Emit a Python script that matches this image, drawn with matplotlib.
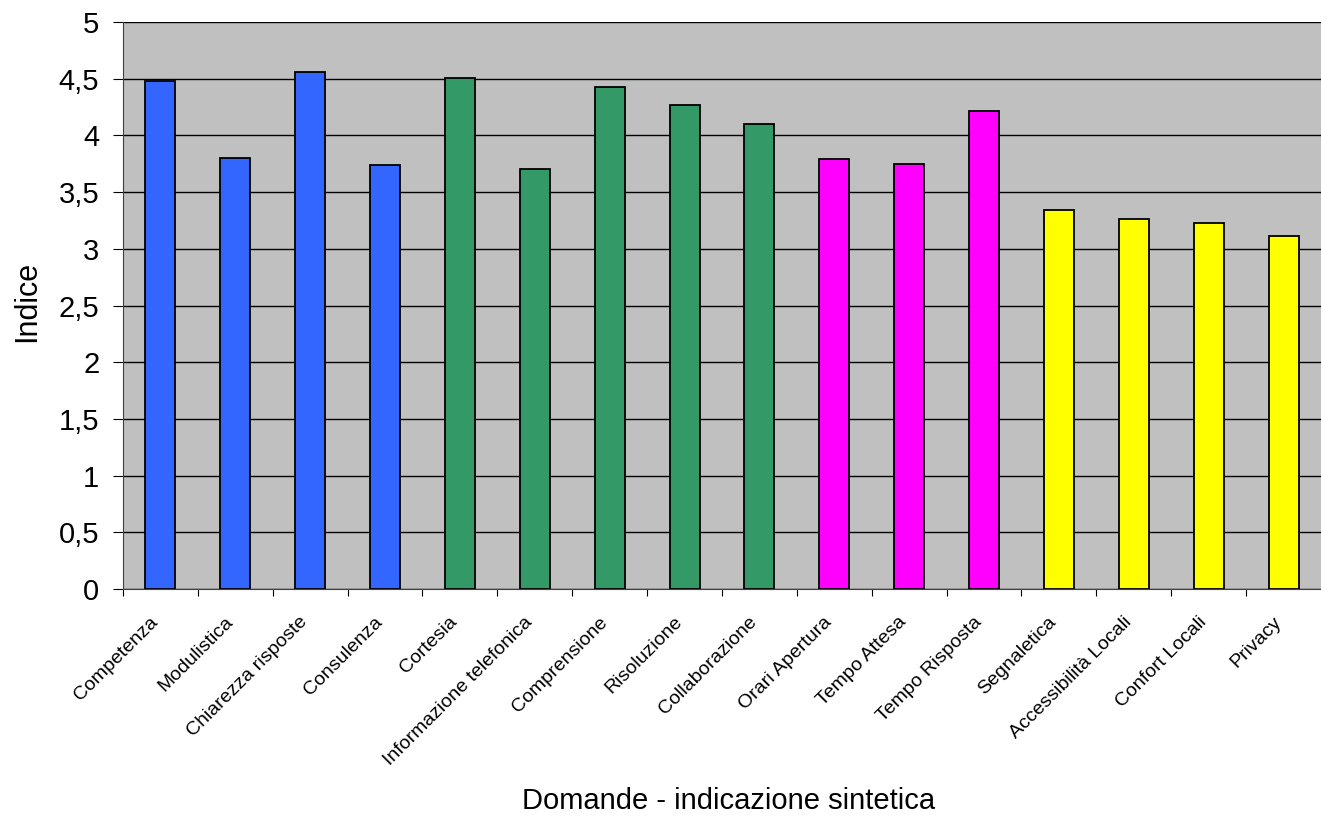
import matplotlib.pyplot as plt
import numpy as np
import matplotlib.transforms as mtransforms
from matplotlib.ticker import FuncFormatter, MultipleLocator, FixedLocator

plt.rcParams['font.family'] = ['Liberation Sans', 'DejaVu Sans']

categories = ['Competenza', 'Modulistica', 'Chiarezza risposte', 'Consulenza',
              'Cortesia', 'Informazione telefonica', 'Comprensione', 'Risoluzione',
              'Collaborazione', 'Orari Apertura', 'Tempo Attesa', 'Tempo Risposta',
              'Segnaletica', 'Accessibilità Locali', 'Confort Locali', 'Privacy']
values = [4.48, 3.80, 4.56, 3.74, 4.51, 3.70, 4.43, 4.27,
          4.10, 3.79, 3.75, 4.22, 3.34, 3.26, 3.23, 3.11]
groups = [0, 0, 0, 0, 1, 1, 1, 1, 1, 2, 2, 2, 3, 3, 3, 3]
group_colors = ['#3366FF', '#339966', '#FF00FF', '#FFFF00']

fig = plt.figure(figsize=(13.21, 8.18), dpi=100)
ax = fig.add_axes([0.0931, 0.280, 0.9069, 0.693])
ax.set_facecolor('#C0C0C0')

x = np.arange(len(categories))
colors = [group_colors[g] for g in groups]
ax.bar(x, values, width=0.4, color=colors, edgecolor='black', linewidth=1.3, zorder=3)

ax.set_xlim(-0.5, len(categories) - 0.5)
ax.set_ylim(0, 5)
ax.yaxis.set_major_locator(MultipleLocator(0.5))
ax.yaxis.set_major_formatter(FuncFormatter(lambda v, p: ('%g' % v).replace('.', ',')))
ax.grid(axis='y', color='black', linewidth=1, zorder=1)

# ticks sit on category boundaries, labels at the centres
ax.xaxis.set_major_locator(FixedLocator(x - 0.5))
ax.xaxis.set_major_formatter(FuncFormatter(lambda v, p: ''))
ax.set_xticks(x, minor=True)
ax.set_xticklabels(categories, minor=True, rotation=45, ha='right', va='center',
                   rotation_mode='anchor', fontsize=14)
ax.tick_params(axis='x', which='minor', length=0, pad=22)
ax.tick_params(axis='x', which='major', length=5, direction='out')
ax.tick_params(axis='y', labelsize=21, length=7, pad=10)
shift = mtransforms.ScaledTranslation(-5 / 100, 0, fig.dpi_scale_trans)
for lab in ax.get_xticklabels(minor=True):
    lab.set_transform(lab.get_transform() + shift)

for s in ['top', 'right']:
    ax.spines[s].set_visible(False)
ax.spines['left'].set_color('#404040')
ax.spines['bottom'].set_color('#404040')

fig.text(27 / 1321, 1 - 301 / 818, 'Indice', rotation=90, fontsize=22,
         ha='center', va='center')
fig.text(729 / 1321, 1 - 801 / 818, 'Domande - indicazione sintetica', fontsize=21,
         ha='center', va='center')

fig.savefig('out.png', dpi=100)
